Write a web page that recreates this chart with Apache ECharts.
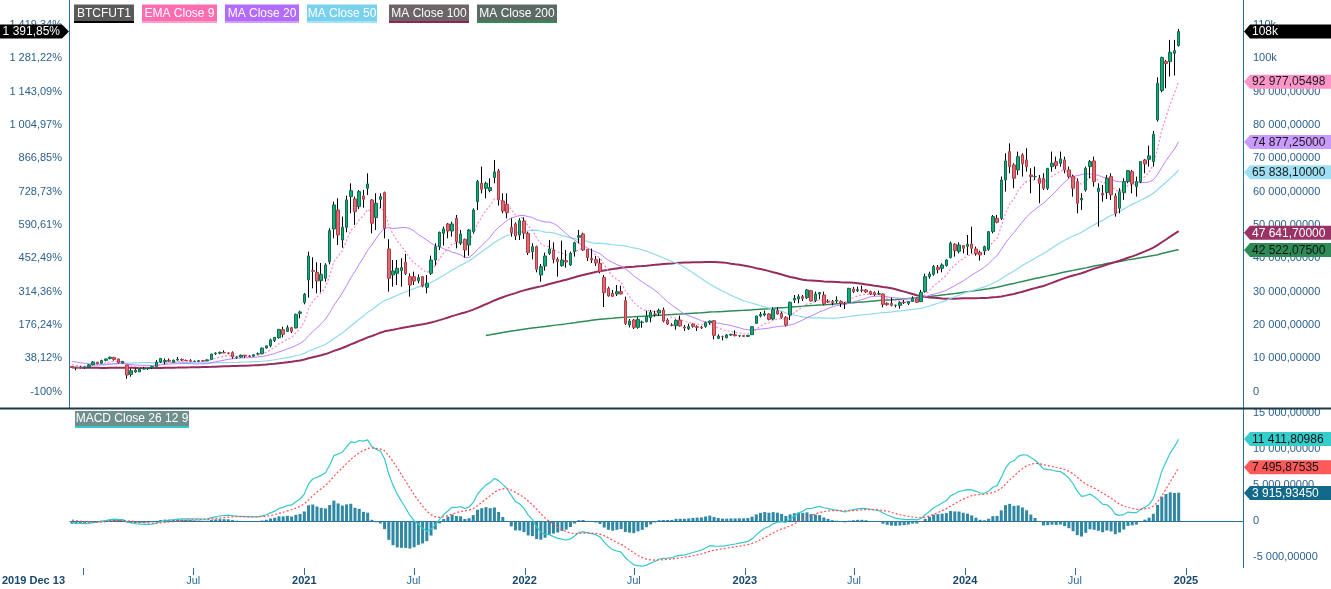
<!DOCTYPE html>
<html><head><meta charset="utf-8">
<script src="https://cdn.jsdelivr.net/npm/echarts@6/dist/echarts.min.js"></script>
<style>html,body{margin:0;padding:0;background:#fff;}#chart{width:1331px;height:589px;}</style>
</head><body><div id="chart"></div>
<script>
// ---------------- DATA ----------------
const firstBarDate = '2019-12-13';          // weekly bars, dated on Fridays
// weekly closes before the visible window (only used to seed the moving averages / MACD)
const warmupCloses2018 = [17200,13800,11600,11100,8800,8100,10200,9800,11000,9300,8200,8700,6900,6600,7900,8800,9300,9700,8400,8100,7500,7500,7600,6500,6100,6200,6600,6200,7300,8200,7400,6300,6500,6700,7000,6400,6500,6700,6600,6600,6300,6400,6400,6400,6400,5600,4300,4000,3400,3250,3900,3850];
const warmupCloses2019 = [3800,3650,3600,3550,3450,3650,3600,4100,3800,3900,3900,4000,4100,5000,5050,5300,5200,5750,6350,7350,8000,8550,7800,8200,9950,12400,11000,11800,10600,9900,10500,11850,10300,10400,9600,10500,10350,10150,8200,8150,8300,7950,8650,9250,8800,8500,7300,7750,7500];
// visible weekly candles: [open, high, low, close]
const candles2019 = [[7550,7700,7100,7240],[7200,7450,6450,7170],[7300,7650,7050,7250]];
const candles2020 = [[7250,7500,6900,7350],[7450,8250,7300,8050],[8100,9200,7950,8920],[8850,8950,8250,8450],[8550,9600,8400,9350],[9400,9900,9100,9820],[9950,10500,9700,10350],[10300,10450,9300,9680],[9800,9950,8450,8700],[8600,9200,8400,9100],[8000,8100,3850,5000],[5200,6950,4500,6300],[5900,6950,5700,6450],[5950,7000,5900,6850],[6800,7450,6700,6900],[6900,7200,6500,7100],[7150,7750,6800,7550],[7600,9450,7550,8850],[8900,10000,8600,9980],[9000,9950,8200,9350],[9400,9950,8900,9170],[8800,9600,8700,9450],[9500,10400,9300,9680],[9700,9950,9200,9470],[9400,9600,9200,9330],[9300,9750,8950,9180],[9050,9350,8950,9070],[9100,9450,9050,9280],[9300,9350,9100,9160],[9250,9650,9200,9550],[9700,11400,9650,11300],[11400,11800,11050,11600],[11550,12000,11200,11800],[11800,12400,11550,11650],[11600,11750,11200,11550],[11700,12100,9900,10450],[10300,10550,9900,10400],[10400,11100,10200,10950],[10950,11000,10150,10720],[10700,10950,10450,10580],[10650,11150,10550,11080],[11300,11750,11200,11350],[11400,13250,11350,13050],[13100,13850,12900,13750],[13800,15900,13300,15550],[15400,16400,14900,16300],[16200,18800,15900,18700],[18600,19500,16300,17200],[18100,19900,18000,19200],[19200,19400,17600,18100],[19100,23400,19000,23200],[23500,24300,22000,23900]];
const candles2021 = [[26800,29600,26200,29200],[33500,42000,28200,40700],[36300,40300,31000,36100],[35800,38800,29500,33200],[33300,38600,29800,35200],[34000,38500,33000,38000],[39000,49000,38200,48300],[48800,57000,46000,56000],[54500,58000,44000,47000],[45500,52500,43200,49300],[49300,58800,47800,57500],[58500,62500,53500,60300],[57800,58500,50000,54000],[55500,60500,54800,60000],[58700,60500,55200,57700],[61000,65500,59000,62300],[57500,57800,47500,50500],[52200,59500,48500,56500],[57700,59500,55000,58500],[59700,60000,46000,49000],[42800,45700,30000,34000],[35000,39500,31500,36200],[35500,39500,32000,37000],[36300,40000,31500,37200],[38800,41300,35000,35500],[34500,35500,28500,32000],[34500,36000,32000,33200],[33300,35200,32500,34200],[34500,34700,31300,31700],[31300,35000,29500,32500],[35500,40800,35000,39500],[39500,44500,37800,43500],[43500,48000,42500,47800],[47500,49500,43800,48800],[50300,50600,46000,48200],[48200,51000,46500,50300],[52000,53000,43000,45000],[44500,48500,44000,47300],[45700,45900,40200,42500],[44000,48800,40800,48500],[48000,55000,47500,54500],[57000,63500,54500,63000],[62500,67500,59500,60700],[61000,63000,58000,62500],[60300,64000,59800,61200],[64200,69500,62500,65900],[66200,66800,55800,57500],[57200,59500,53500,54200],[56200,59500,52000,53700],[49300,52000,46500,47700],[50300,50800,45500,46700],[47000,52000,45500,51300],[51200,52300,45800,47500]];
const candles2022 = [[47500,48000,41000,41700],[42000,44500,39700,43500],[43500,43800,35800,36700],[35000,38300,33000,37500],[37700,41700,36300,40700],[41500,45500,41000,42800],[42500,44800,38500,39700],[39700,40300,34500,39000],[37800,45300,37500,39500],[39300,42500,37200,38900],[38000,42000,37700,41500],[42000,45000,40500,44700],[46300,48500,44500,46800],[47300,47700,42200,42500],[42700,42800,39200,40200],[40000,42900,38600,39500],[39600,40700,37700,38600],[38500,40000,35500,36000],[34300,35000,25400,29700],[31000,31500,28500,28700],[29500,30500,28500,28600],[29300,32000,28700,30000],[30000,31800,29200,29300],[27300,28500,20000,20500],[20000,21800,19300,21200],[21500,21800,18800,19300],[19300,22300,18900,21700],[20800,21300,19200,20900],[21000,24300,20800,22700],[22200,24500,20800,23800],[23300,24300,22500,23200],[23600,24900,22700,24400],[24500,25200,20800,21200],[21500,22000,20000,20300],[20000,20500,19600,19900],[19800,21700,18600,21400],[21500,22800,19500,19700],[19400,20000,18200,19100],[18900,20400,18500,19500],[20200,20500,19200,19600],[19500,19900,18200,19300],[19300,19700,18800,19200],[19600,21000,19200,20700],[20700,21300,20100,21200],[21300,21500,15700,16900],[16000,17200,15800,16700],[16500,16800,15400,16500],[16200,17300,16000,17000],[17000,17400,16800,17200],[17100,18400,16600,16800],[16800,17000,16400,16800],[16800,16900,16400,16600]];
const candles2023 = [[16600,17000,16500,16900],[17100,19600,17000,19500],[20500,22800,20300,22700],[22700,23900,22300,23200],[23000,24300,22600,23400],[23300,23500,21400,21700],[21800,25300,21500,24600],[24300,25300,23100,23300],[23500,24000,21900,22300],[22300,22600,19600,20000],[23000,27000,21500,26800],[27500,29000,26600,28000],[27800,29200,26500,28500],[28500,29000,27200,28000],[28200,30800,27800,30500],[30300,30500,27100,27200],[27400,30000,26900,29300],[29300,29900,27700,29700],[29000,30000,25900,26300],[27000,27700,26600,26900],[27000,27500,25900,26700],[27200,28600,26600,27500],[27000,27400,25400,26500],[26400,26900,24800,26400],[26800,31000,26600,31000],[30800,31400,29600,30000],[30300,31500,29900,30600],[30500,31800,29800,30400],[30500,30800,29600,29900],[30000,30300,29000,29300],[29700,30100,28700,29100],[29300,30300,29000,29400],[29300,29500,25300,26200],[26500,26800,25800,26100],[26500,28200,25600,25900],[25900,26100,25300,25900],[25900,27100,24900,26700],[26800,27500,26300,26700],[26500,27200,26000,27000],[27100,28600,26900,28000],[27800,28000,26600,26800],[27000,30500,26900,29800],[30000,35400,29700,34500],[34500,36000,33900,35300],[35200,38000,34800,37500],[37300,38000,35500,36600],[37000,38500,35800,38000],[37800,39700,37500,39500],[40200,45000,40000,44500],[44200,44500,40500,42300],[42100,44800,41500,44000],[43800,43900,41500,43000]];
const candles2024 = [[43600,47000,41000,44200],[44300,49500,41500,43000],[42800,43500,40800,41400],[41800,42300,39300,41000],[42200,43800,41000,43500],[42700,48200,42300,48000],[48000,53000,47500,52500],[52000,53000,50500,50800],[52000,64500,51500,63500],[63500,71500,60000,69200],[72000,74500,65500,67500],[68000,68500,61000,64000],[66500,72000,65000,70500],[71000,71500,64500,68300],[69500,73000,66000,67500],[65000,67000,59500,64500],[64500,67500,63500,64500],[64000,65000,56500,62500],[64000,65500,60500,61000],[61000,67000,60500,67000],[67500,72000,66000,68500],[69000,70500,66800,67800],[68500,72000,67500,69800],[69500,70500,65500,66500],[66500,67500,64000,64500],[64500,65000,58500,61000],[63000,64000,53500,56500],[57500,59500,54500,58000],[60500,67500,60000,67000],[67500,69500,64000,69000],[69200,70500,61500,63000],[60000,62500,49500,61000],[59500,62000,57000,59000],[59700,65000,57800,64000],[64500,65500,57500,59000],[58700,59500,52500,53500],[55000,61000,53500,60000],[59700,64000,57500,63000],[63000,66500,62500,66300],[66000,66500,59500,62300],[61500,64500,58500,63000],[63000,69000,62500,69000],[69500,69800,65500,68300],[69700,73800,67500,70700],[69000,78200,67500,77200],[81500,94300,81000,92500],[90300,100500,89800,100200],[99000,99500,91000,98400],[99000,105500,94500,101800],[101500,105500,94800,102300],[103800,108800,103500,108010]];
// last values printed in the axis tags
const priceTagValues = [108010, 92977.05498, 74877.25, 65838.10, 47641.70, 42522.075];
const macdTagValues = [11411.80986, 7495.87535, 3915.93450];
const legendNames = ['BTCFUT1','EMA Close 9','MA Close 20','MA Close 50','MA Close 100','MA Close 200'];
const macdLegendName = 'MACD Close 26 12 9';
// x-axis ticks (half-years) and which of them carry a label
const xTickDates = ['2020-01-01','2020-07-01','2021-01-01','2021-07-01','2022-01-01','2022-07-01','2023-01-01','2023-07-01','2024-01-01','2024-07-01','2025-01-01'];
const xLabelDates = ['2020-07-01','2021-01-01','2021-07-01','2022-01-01','2022-07-01','2023-01-01','2023-07-01','2024-01-01','2024-07-01','2025-01-01'];
const startLabel = '2019 Dec 13';

// ---------------- STYLE ----------------
const FONT = '"Liberation Sans", Arial, sans-serif';
const AXIS_TXT = '#2b5f8c';
const AXIS_LINE = '#2c6e96';
const C = {
  up:'#19a97b', upB:'#0d6e4e', dn:'#e06a74', dnB:'#b13f4a',
  ema9:'#ff86c4', ma20:'#bf80ff', ma50:'#8fdaf0', ma100:'#962c5e', ma200:'#2e8b57',
  macd:'#35c8cc', sig:'#ff4f4f', hist:'#2f88a4'
};

// ---------------- BUILD ----------------
const DAY = 86400000;
const candles = [].concat(candles2019, candles2020, candles2021, candles2022, candles2023, candles2024);
const closes = candles.map(c => c[3]);
const toT = s => Date.parse(s + 'T00:00:00Z');
const t0 = toT(firstBarDate);
const barDates = candles.map((c, i) => t0 + i * 7 * DAY);
const basePrice = closes[0];
const warm = warmupCloses2018.concat(warmupCloses2019);
const allCloses = warm.concat(closes);
const W = warm.length;

function sma(n) {
  return closes.map((c, i) => {
    const end = W + i; if (end - n + 1 < 0) return null;
    let s = 0; for (let k = end - n + 1; k <= end; k++) s += allCloses[k];
    return s / n;
  });
}
function emaOf(vals, n) {
  const k = 2 / (n + 1); let e = vals[0];
  return vals.map(v => (e = v * k + e * (1 - k)));
}
const ema9All = emaOf(allCloses, 9);
const ema12 = emaOf(allCloses, 12), ema26 = emaOf(allCloses, 26);
const macdAll = ema12.map((v, i) => v - ema26[i]);
const sigAll = emaOf(macdAll, 9);
const vis = a => a.slice(W);
const ema9 = vis(ema9All), ma20 = sma(20), ma50 = sma(50), ma100 = sma(100), ma200 = sma(200);
const macd = vis(macdAll), signal = vis(sigAll), hist = macd.map((v, i) => v - signal[i]);
const pts = arr => arr.map((v, i) => [barDates[i], v]);

function group3(s) { return s.replace(/\B(?=(\d{3})+(?!\d))/g, ' '); }
function fmtPrice(v) {
  if (v === 0) return '0';
  if (Math.abs(v) >= 100000) return Math.round(v / 1000) + 'k';
  const p = Math.abs(v).toFixed(5).split('.');
  return (v < 0 ? '-' : '') + group3(p[0]) + ',' + p[1];
}
function fmtPct(v) {
  const p = (v / basePrice - 1) * 100;
  if (Math.abs(p - Math.round(p)) < 1e-9) return Math.round(p) + '%';
  const s = Math.abs(p).toFixed(2).split('.');
  return (p < 0 ? '-' : '') + group3(s[0]) + ',' + s[1] + '%';
}
const MONTHS = ['Jan','Feb','Mar','Apr','May','Jun','Jul','Aug','Sep','Oct','Nov','Dec'];
const tickVals = xTickDates.map(toT);
const labelVals = xLabelDates.map(toT);
function xLabel(value) {
  const d = new Date(value);
  const m = d.getUTCMonth();
  if (m === 0) return '{y|' + d.getUTCFullYear() + '}';
  return '{m|' + MONTHS[m] + '}';
}

const xMin = t0 - 3.3 * DAY, xMax = t0 + 1940.6 * DAY;
const chart = echarts.init(document.getElementById('chart'));
const lineS = (name, data, color, width, type, z) => ({
  name, type:'line', xAxisIndex:0, yAxisIndex:1, data:pts(data), showSymbol:false, symbol:'none',
  lineStyle:{color, width, type}, z, silent:true
});
const valAxisLbl = (fmt, margin) => ({formatter:fmt, color:AXIS_TXT, fontSize:11, margin, fontFamily:FONT});
chart.setOption({
  animation:false, backgroundColor:'#ffffff',
  textStyle:{fontFamily:FONT},
  grid:[{left:70,right:88,top:24.9,height:366.8},{left:70,right:88,top:413,height:144.3}],
  xAxis:[
    {type:'value', gridIndex:0, min:xMin, max:xMax, show:false, splitLine:{show:false}},
    {type:'value', gridIndex:1, min:xMin, max:xMax, offset:10.7, scale:true,
     axisLine:{show:true, lineStyle:{color:AXIS_LINE, width:1}},
     axisTick:{show:false},
     splitLine:{show:false}, minorTick:{show:false},
     axisLabel:{margin:7, customValues:labelVals, formatter:xLabel, hideOverlap:false,
       rich:{y:{fontWeight:'bold', color:'#17476e', fontSize:11, fontFamily:FONT},
             m:{color:'#2a6a9a', fontSize:11, fontFamily:FONT}}}}
  ],
  yAxis:[
    {type:'value', gridIndex:0, position:'left', min:0, max:110000, interval:10000,
     axisLine:{show:false}, axisTick:{show:false}, splitLine:{show:false}, axisLabel:valAxisLbl(fmtPct, 8)},
    {type:'value', gridIndex:0, position:'right', min:0, max:110000, interval:10000,
     axisLine:{show:false}, axisTick:{show:false}, splitLine:{show:false}, axisLabel:valAxisLbl(fmtPrice, 10)},
    {type:'value', gridIndex:1, position:'right', min:-5000, max:15000, interval:5000,
     axisLine:{show:false}, axisTick:{show:false}, splitLine:{show:false}, axisLabel:valAxisLbl(fmtPrice, 10)}
  ],
  series:[
    lineS('MA Close 200', ma200, C.ma200, 1.5, 'solid', 2),
    lineS('MA Close 100', ma100, C.ma100, 2, 'solid', 2),
    lineS('MA Close 50', ma50, C.ma50, 1.2, 'solid', 2),
    lineS('MA Close 20', ma20, C.ma20, 1, 'solid', 2),
    lineS('EMA Close 9', ema9, C.ema9, 1.2, [2,2], 2),
    {name:'wicks', type:'candlestick', xAxisIndex:0, yAxisIndex:1, barWidth:1, z:3, silent:true,
     encode:{x:0, y:[1,2,3,4]},
     data:candles.map((c,i)=>[barDates[i], c[0], c[3], c[2], c[1]]),
     itemStyle:{color:'#000', color0:'#000', borderColor:'#000', borderColor0:'#000', borderWidth:1}},
    {name:'BTCFUT1', type:'candlestick', xAxisIndex:0, yAxisIndex:1, barWidth:3, z:4, silent:true,
     encode:{x:0, y:[1,2,3,4]},
     data:candles.map((c,i)=>[barDates[i], c[0], c[3], Math.min(c[0],c[3]), Math.max(c[0],c[3])]),
     itemStyle:{color:C.up, color0:C.dn, borderColor:C.upB, borderColor0:C.dnB, borderWidth:1}},
    {name:'hist', type:'bar', xAxisIndex:1, yAxisIndex:2, data:pts(hist), barWidth:3,
     itemStyle:{color:C.hist}, silent:true, z:2},
    {name:'MACD', type:'line', xAxisIndex:1, yAxisIndex:2, data:pts(macd), showSymbol:false, symbol:'none',
     lineStyle:{color:C.macd, width:1.2}, clip:false, z:3, silent:true},
    {name:'Signal', type:'line', xAxisIndex:1, yAxisIndex:2, data:pts(signal), showSymbol:false, symbol:'none',
     lineStyle:{color:C.sig, width:1.2, type:[2,2]}, clip:false, z:3, silent:true}
  ]
});

// ---------------- OVERLAYS (axis lines, ticks, legend chips, value tags) ----------------
const G = [];
G.push({type:'line', z:50, shape:{x1:69.5,y1:0,x2:69.5,y2:408}, style:{stroke:AXIS_LINE, lineWidth:1}});
G.push({type:'line', z:50, shape:{x1:1243.5,y1:0,x2:1243.5,y2:568}, style:{stroke:AXIS_LINE, lineWidth:1}});
G.push({type:'line', z:50, shape:{x1:0,y1:408.5,x2:1331,y2:408.5}, style:{stroke:'#1b3a48', lineWidth:2}});
G.push({type:'text', z:50, x:65, y:581, style:{text:startLabel, align:'right', verticalAlign:'middle',
  fill:'#17476e', font:'bold 11px ' + FONT}});
tickVals.forEach(v => {
  const x = Math.round(chart.convertToPixel({xAxisIndex:1}, v)) + 0.5;
  G.push({type:'line', z:50, shape:{x1:x, y1:568, x2:x, y2:575}, style:{stroke:AXIS_LINE, lineWidth:1}});
});

const legendBoxes = [
  {x:74, w:60, bg:'#5a5a5a', ul:'#000000'},
  {x:142, w:75, bg:'#ff6cb0', ul:'#ff9fcf'},
  {x:225, w:74, bg:'#b36bff', ul:'#cf9dff'},
  {x:307, w:70, bg:'#78d2ee', ul:'#a6e3f5'},
  {x:389, w:80, bg:'#6c6466', ul:'#8e2456'},
  {x:477, w:80, bg:'#5c6a64', ul:'#2e8b57'}
];
function chip(x, y, w, h, bg, ul, text) {
  G.push({type:'rect', z:60, shape:{x, y, width:w, height:h}, style:{fill:bg}});
  G.push({type:'rect', z:60, shape:{x, y:y+h, width:w, height:2}, style:{fill:ul}});
  G.push({type:'text', z:61, x:x + w/2, y:y + h/2 + 0.5, style:{text, align:'center', verticalAlign:'middle',
    fill:'#ffffff', font:'12px ' + FONT}});
}
legendNames.forEach((n, i) => chip(legendBoxes[i].x, 4.5, legendBoxes[i].w, 16.5, legendBoxes[i].bg, legendBoxes[i].ul, n));
chip(75, 411, 114, 15, '#6e8e8c', '#35c8cc', macdLegendName);

function rightTag(y, text, bg, fg) {
  G.push({type:'polygon', z:70, shape:{points:[[1244,y],[1250,y-7],[1331,y-7],[1331,y+7],[1250,y+7]]}, style:{fill:bg}});
  G.push({type:'text', z:71, x:1252, y:y+0.5, style:{text, align:'left', verticalAlign:'middle', fill:fg, font:'12px ' + FONT}});
}
const priceTagStyles = [['#000000','#ffffff'],['#ff94c9','#1a1a1a'],['#c99bff','#1a1a1a'],['#9edff3','#1a1a1a'],['#993366','#ffffff'],['#2e8b57','#111111']];
priceTagValues.forEach((v, i) => {
  const y = chart.convertToPixel({yAxisIndex:1}, v);
  rightTag(y, fmtPrice(v), priceTagStyles[i][0], priceTagStyles[i][1]);
});
const macdTagStyles = [['#35cccc','#111111'],['#ff5a5a','#111111'],['#12698a','#ffffff']];
macdTagValues.forEach((v, i) => {
  const y = chart.convertToPixel({yAxisIndex:2}, v);
  rightTag(y, fmtPrice(v), macdTagStyles[i][0], macdTagStyles[i][1]);
});
const yLast = chart.convertToPixel({yAxisIndex:0}, priceTagValues[0]);
G.push({type:'polygon', z:70, shape:{points:[[0,yLast-7],[62,yLast-7],[69,yLast],[62,yLast+7],[0,yLast+7]]}, style:{fill:'#000'}});
G.push({type:'text', z:71, x:60, y:yLast+0.5, style:{text:fmtPct(priceTagValues[0]), align:'right', verticalAlign:'middle', fill:'#fff', font:'12px ' + FONT}});
chart.setOption({graphic:G});
</script>
</body></html>
